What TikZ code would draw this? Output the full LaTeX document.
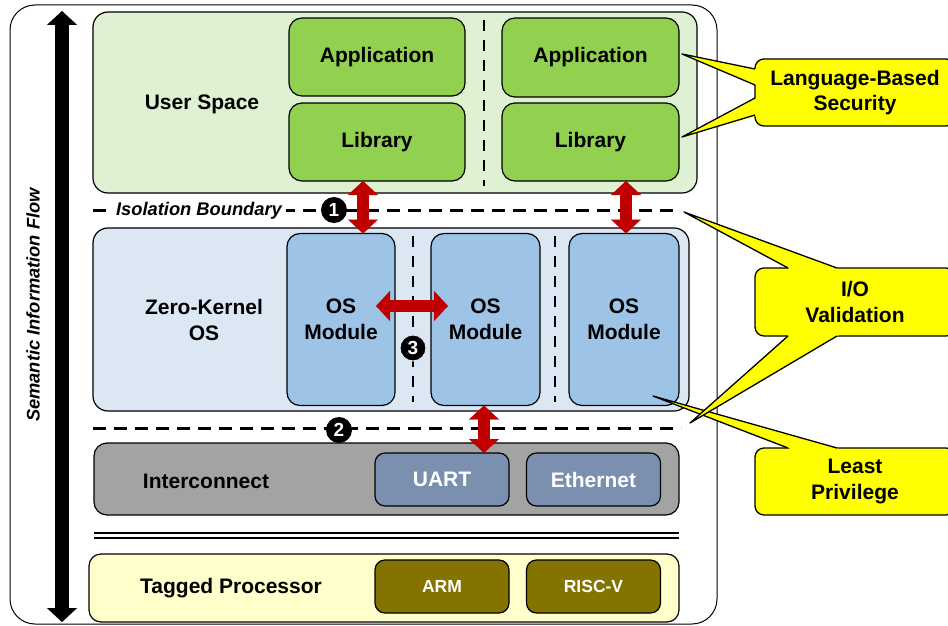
\documentclass[tikz,border=0pt]{standalone}
\usepackage{fontspec}
\setmainfont{Liberation Sans}
\usetikzlibrary{arrows.meta}
\definecolor{usfill}{HTML}{DEF2D3}
\definecolor{appfill}{HTML}{92D050}
\definecolor{zkfill}{HTML}{DCE7F4}
\definecolor{modfill}{HTML}{9DC3E6}
\definecolor{icfill}{HTML}{A3A3A3}
\definecolor{devfill}{HTML}{7B8FAE}
\definecolor{tpfill}{HTML}{FFFFCC}
\definecolor{cpufill}{HTML}{857300}
\definecolor{callfill}{HTML}{FFFF00}
\definecolor{arrowred}{HTML}{C00000}
\begin{document}
\begin{tikzpicture}[x=1pt,y=-1pt,
  font=\bfseries\fontsize{21}{25.5}\selectfont,
  every node/.style={inner sep=0pt, outer sep=0pt},
  layer/.style={draw, line width=1.2pt, rounded corners=15pt},
  inner/.style={draw, line width=1.2pt, rounded corners=13pt, align=center},
  dev/.style={draw, line width=1.2pt, rounded corners=10pt, fill=devfill, text=white, minimum width=134pt, minimum height=53pt},
  cpu/.style={draw, line width=1.2pt, rounded corners=10pt, fill=cpufill, text=white, minimum width=134pt, minimum height=53pt, font=\bfseries\fontsize{17.5}{21}\selectfont},
  sep/.style={line width=3pt, dash pattern=on 13pt off 8pt},
  vsep/.style={line width=2.6pt, dash pattern=on 11pt off 9pt},
  callbox/.style={draw, line width=1.3pt, rounded corners=9pt, fill=callfill, align=center, minimum width=200pt, minimum height=67pt},
  tailfill/.style={fill=callfill},
  tailline/.style={draw, line width=1.3pt, line join=round},
  num/.style={circle, fill=black, text=white, minimum size=26pt, font=\bfseries\fontsize{19}{19}\selectfont},
  redarrow/.style={draw=arrowred, line width=12pt, {Triangle[width=30pt,length=14pt,line width=0.1pt]}-{Triangle[width=30pt,length=14pt,line width=0.1pt]}},
  flowarrow/.style={draw=black, line width=14pt, {Triangle[width=30pt,length=14pt,line width=0.1pt]}-{Triangle[width=30pt,length=14pt,line width=0.1pt]}}
]
\useasboundingbox (0,0) rectangle (948,626);
\clip (0,0) rectangle (948,626);
\fill[white] (0,0) rectangle (948,626);

% outer frame
\node[draw, line width=1pt, rounded corners=25pt, minimum width=707pt, minimum height=619pt] (frame) at (363.5,314.5) {};

% semantic flow arrow
\coordinate (ftop) at (62,11);
\coordinate (fbot) at (62,622);
\draw[flowarrow] (fbot) -- (ftop);
\node[rotate=90, font=\bfseries\itshape\fontsize{18.3}{18}\selectfont] (flowlbl) at (33,305) {Semantic Information Flow};

% user space
\node[layer, fill=usfill, minimum width=604pt, minimum height=181pt] (us) at (395,102.5) {};
\node (uslbl) at (202,104) {User Space};
\node[inner, fill=appfill, minimum width=176pt, minimum height=78pt] (appL) at (377,57) {Application};
\node[inner, fill=appfill, minimum width=176pt, minimum height=78pt] (libL) at (377,142) {Library};
\node[inner, fill=appfill, minimum width=177pt, minimum height=79pt] (appR) at (590.5,57.5) {Application};
\node[inner, fill=appfill, minimum width=177pt, minimum height=78pt] (libR) at (590.5,142) {Library};
\coordinate (usd1) at (484,20);
\coordinate (usd2) at (484,186);
\draw[vsep] (usd1) -- (usd2);

% isolation boundary
\coordinate (ib1) at (93,210);
\coordinate (ib2) at (681,210);
\draw[sep] (ib1) -- (ib2);
\node[fill=white, inner sep=4pt, font=\bfseries\itshape\fontsize{18.3}{18}\selectfont] (iblbl) at (199,211) {Isolation Boundary};
\node[num] (n1) at (334,210) {1};

% zero-kernel OS
\node[layer, fill=zkfill, minimum width=596pt, minimum height=183pt] (zk) at (391,319.5) {};
\node[align=center] (zklbl) at (204,320) {Zero-Kernel\\OS};
\node[inner, fill=modfill, minimum width=108pt, minimum height=172pt] (m1) at (341,319.5) {OS\\Module};
\node[inner, fill=modfill, minimum width=109pt, minimum height=172pt] (m2) at (485.5,319.5) {OS\\Module};
\node[inner, fill=modfill, minimum width=110pt, minimum height=172pt] (m3) at (624,319.5) {OS\\Module};
\coordinate (zd1a) at (413,236);
\coordinate (zd1b) at (413,402);
\coordinate (zd2a) at (555,236);
\coordinate (zd2b) at (555,402);
\draw[vsep] (zd1a) -- (zd1b);
\draw[vsep] (zd2a) -- (zd2b);
\node[num, draw=zkfill, line width=1pt] (n3) at (413,348) {3};

% boundary 2
\coordinate (b2a) at (93,428);
\coordinate (b2b) at (681,428);
\draw[sep] (b2a) -- (b2b);
\node[num] (n2) at (339,430) {2};

% interconnect
\node[layer, fill=icfill, rounded corners=13pt, minimum width=585pt, minimum height=72pt] (ic) at (386.5,479) {};
\node (iclbl) at (206,481) {Interconnect};
\node[dev] (uart) at (442,479.5) {UART};
\node[dev] (eth) at (593.5,479.5) {Ethernet};

% double line
\coordinate (dl1a) at (94,532.7);
\coordinate (dl1b) at (679,532.7);
\coordinate (dl2a) at (94,537.5);
\coordinate (dl2b) at (679,537.5);
\draw[line width=2pt] (dl1a) -- (dl1b);
\draw[line width=2pt] (dl2a) -- (dl2b);

% tagged processor
\node[layer, fill=tpfill, rounded corners=12pt, minimum width=590pt, minimum height=68pt] (tp) at (384,588) {};
\node (tplbl) at (231,588) {Tagged Processor};
\node[cpu] (arm) at (442,586.5) {ARM};
\node[cpu] (riscv) at (593.5,586.5) {RISC-V};

% red arrows
\coordinate (ax1) at (363,0);
\coordinate (ax2) at (626,0);
\coordinate (ax3) at (484,0);
\draw[redarrow] (libL.south -| ax1) -- (m1.north -| ax1);
\draw[redarrow] (libR.south -| ax2) -- (m3.north -| ax2);
\draw[redarrow] (m2.south -| ax3) -- (uart.north -| ax3);
\coordinate (h1) at (376,306);
\coordinate (h2) at (448,306);
\draw[redarrow] (h1) -- (h2);

% callouts
\node[callbox] (lb) at (855,92.5) {Language-Based\\Security};
\node[callbox, minimum height=68pt] (io) at (855,302) {I/O\\Validation};
\node[callbox] (lp) at (855,481.5) {Least\\Privilege};

\coordinate (t1) at (682,54);
\coordinate (t2) at (682,137);
\coordinate (t3) at (684,212);
\coordinate (t4) at (690,423);
\coordinate (t5) at (653,396);

\fill[tailfill] (t1) -- (757.5,69.4) -- (757.5,85.5) -- cycle;
\draw[tailline] (755,69) -- (t1) -- (755,85);
\fill[tailfill] (t2) -- (757.5,97.6) -- (757.5,115.5) -- cycle;
\draw[tailline] (755,98) -- (t2) -- (755,115);

\fill[tailfill] (t3) -- (792,270.3) -- (842,270.3) -- cycle;
\draw[tailline] (788,268) -- (t3) -- (837,268);

\fill[tailfill] (t5) -- (794,450.2) -- (843,450.2) -- cycle;
\draw[tailline] (788,448) -- (t5) -- (837,448);

\fill[tailfill] (t4) -- (790,333.8) -- (841,333.8) -- cycle;
\draw[tailline] (788,336) -- (t4) -- (837,336);
\end{tikzpicture}
\end{document}
